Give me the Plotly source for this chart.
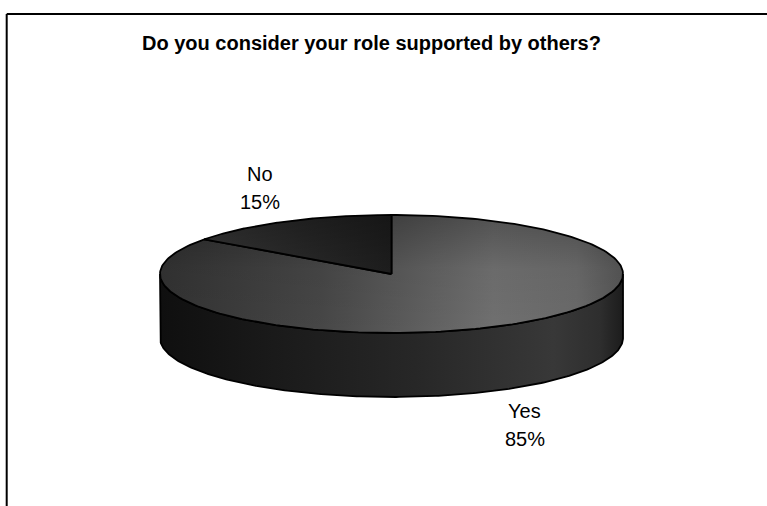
import numpy as np
import plotly.graph_objects as go

# Survey answers
categories = ["Yes", "No"]
values = [85, 15]
title_text = "Do you consider your role supported by others?"

W, H = 767, 506

# 3-D pie geometry (pixel space, y measured downward from the top)
CX, CY = 391.5, 274.0
RX, RY = 231.5, 59.0
DEPTH = 64.0
START_ANGLE = 90.0  # first slice starts at 12 o'clock, running clockwise

# Per-category styling: top face horizontal gradient and side gradient
top_scales = {
    "Yes": [[0, "#323232"], [0.35, "#474747"], [0.72, "#707070"], [0.9, "#6a6a6a"], [1, "#555555"]],
    "No": [[0, "#383838"], [0.5, "#2a2a2a"], [1, "#1e1e1e"]],
}
side_scales = {
    "Yes": [[0, "#0f0f0f"], [0.2, "#181818"], [0.55, "#272727"], [0.85, "#383838"], [0.95, "#2e2e2e"], [1, "#1c1c1c"]],
    "No": [[0, "#111111"], [1, "#222222"]],
}


def py(row):
    """Convert a pixel row (downward) into the upward plot y value."""
    return H - np.asarray(row)


def arc(a_from, a_to, drop=0.0, n=240):
    t = np.radians(np.linspace(a_from, a_to, n))
    return CX + RX * np.cos(t), CY - RY * np.sin(t) + drop


total = float(sum(values))
slices = []
a0 = START_ANGLE
for cat, v in zip(categories, values):
    a1 = a0 - 360.0 * v / total
    slices.append((cat, v, a0, a1))
    a0 = a1

fig = go.Figure()


def front_span(a_hi, a_lo):
    """Part of the angular range [a_lo, a_hi] lying on the front half (-180..0)."""
    spans = []
    for shift in (-720, -360, 0, 360, 720):
        lo, hi = max(a_lo + shift, -180.0), min(a_hi + shift, 0.0)
        if hi > lo:
            spans.append((hi, lo))
    return spans


# Sides (front half only)
for cat, v, hi, lo in slices:
    for s_hi, s_lo in front_span(hi, lo):
        tx, ty = arc(s_hi, s_lo)
        bx, by = arc(s_lo, s_hi, drop=DEPTH)
        xs = np.concatenate([tx, bx, tx[:1]])
        ys = np.concatenate([ty, by, ty[:1]])
        fig.add_trace(go.Scatter(
            x=xs, y=py(ys), mode="lines", fill="toself",
            fillgradient=dict(type="horizontal", colorscale=side_scales[cat],
                              start=CX - RX, stop=CX + RX),
            line=dict(color="black", width=1.8),
            hoverinfo="skip", showlegend=False,
        ))

# Top faces
for cat, v, hi, lo in slices:
    ax, ay = arc(hi, lo)
    xs = np.concatenate([[CX], ax, [CX]])
    ys = np.concatenate([[CY], ay, [CY]])
    fig.add_trace(go.Scatter(
        x=xs, y=py(ys), mode="lines", fill="toself",
        fillgradient=dict(type="horizontal", colorscale=top_scales[cat]),
        line=dict(color="rgba(0,0,0,0)", width=0),
        hoverinfo="skip", showlegend=False,
    ))
    # soft shading toward the back edge
    fig.add_trace(go.Scatter(
        x=xs, y=py(ys), mode="lines", fill="toself",
        fillgradient=dict(type="vertical",
                          colorscale=[[0, "rgba(0,0,0,0)"], [0.55, "rgba(0,0,0,0.05)"], [1, "rgba(0,0,0,0.28)"]],
                          start=float(py(CY + RY)), stop=float(py(CY - RY))),
        line=dict(color="black", width=1.8),
        hoverinfo="skip", showlegend=False,
    ))

# Data labels
label_pos = {"No": (260.0, 174.0, 201.5), "Yes": (524.5, 410.5, 439.0)}
annotations = []
for cat, v, hi, lo in slices:
    x, yn, yp = label_pos[cat]
    pct = round(100.0 * v / total)
    for txt, yy in ((cat, yn), (f"{pct}%", yp)):
        annotations.append(dict(
            x=x, y=float(py(yy)), xref="x", yref="y", text=txt, showarrow=False,
            xanchor="center", yanchor="middle",
            font=dict(family="Liberation Sans, Arial, sans-serif", size=20, color="black"),
        ))

annotations.append(dict(
    x=371.5, y=float(py(42.5)), xref="x", yref="y", text=f"<b>{title_text}</b>",
    showarrow=False, xanchor="center", yanchor="middle",
    font=dict(family="Liberation Sans, Arial, sans-serif", size=20, color="black"),
))

# Chart-area border (top and left edges)
shapes = [
    dict(type="line", xref="x", yref="y", x0=6.7, x1=W + 5, y0=float(py(14)), y1=float(py(14)),
         line=dict(color="black", width=2)),
    dict(type="line", xref="x", yref="y", x0=6.7, x1=6.7, y0=float(py(14)), y1=-5,
         line=dict(color="black", width=2)),
]

fig.update_layout(
    width=W, height=H,
    margin=dict(l=0, r=0, t=0, b=0),
    paper_bgcolor="white", plot_bgcolor="white",
    xaxis=dict(range=[0, W], visible=False, fixedrange=True),
    yaxis=dict(range=[0, H], visible=False, fixedrange=True),
    annotations=annotations,
    shapes=shapes,
    showlegend=False,
)

fig.write_html("out.html")
